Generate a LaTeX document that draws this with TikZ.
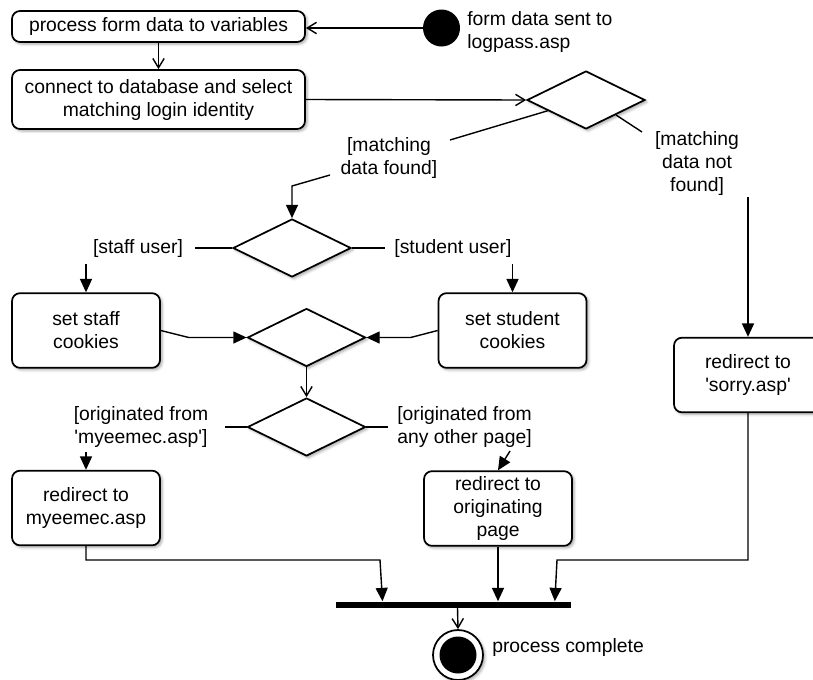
\documentclass[tikz,border=0pt]{standalone}
\usepackage{fontspec}
\setmainfont{Liberation Sans}
\usetikzlibrary{arrows.meta,shapes.geometric,shadows.blur,calc}
\newcommand{\sq}{\textquotesingle}
\begin{document}
\begin{tikzpicture}[x=0.75pt,y=-0.75pt,
  every node/.style={font=\fontsize{14.5}{17.25}\selectfont},
  softshadow/.style={blur shadow={shadow xshift=1.5pt,shadow yshift=-1.5pt,shadow blur radius=2pt,shadow opacity=35}},
  actbox/.style={draw,line width=1.3pt,rounded corners=6pt,fill=white,align=center,inner sep=0pt,softshadow},
  smallbox/.style={actbox,minimum width=111pt,minimum height=56pt},
  decision/.style={diamond,draw,line width=1.3pt,fill=white,inner sep=0pt,minimum width=88.5pt,minimum height=43.5pt,softshadow},
  guard/.style={inner sep=0pt,align=center},
  flow/.style={line width=1.05pt},
  openarrow/.style={flow,-{Straight Barb[length=7pt,width=8.5pt]}},
  solidarrow/.style={flow,-{Triangle[length=10pt,width=9pt]}},
]
\clip (0,0) rectangle (813,679);

% activities
\node[actbox,minimum width=219.75pt,minimum height=23.25pt] (procform) at (158.5,26.5) {process form data to variables};
\node[actbox,minimum width=219.75pt,minimum height=44.25pt] (connectdb) at (158.5,99.5) {connect to database and select\\matching login identity};
\node[smallbox] (staffck) at (86,330.5) {set staff\\cookies};
\node[smallbox] (studentck) at (512.5,330.5) {set student\\cookies};
\node[smallbox] (tomyee) at (86,508) {redirect to\\myeemec.asp};
\node[smallbox] (toorigin) at (498,508.5) {redirect to\\originating\\page};
\node[smallbox] (tosorry) at (748,375) {redirect to\\\sq sorry.asp\sq};

% initial node
\node[circle,fill=black,minimum size=27.75pt,inner sep=0pt] (start) at (441.5,28) {};
\node[guard,anchor=west,align=left] (starttext) at (467,31.5) {form data sent to\\logpass.asp};

% decisions and merges
\node[decision] (dbcheck) at (586,100) {};
\node[decision] (usertype) at (292,248) {};
\node[decision] (merge) at (306.5,337.5) {};
\node[decision] (origin) at (306.5,427) {};

% guards
\node[guard] (foundlbl) at (389,158) {[matching\\data found]};
\node[guard] (notfoundlbl) at (697,163) {[matching\\data not\\found]};
\node[guard] (stafflbl) at (138,248) {[staff user]};
\node[guard] (studentlbl) at (453,248) {[student user]};
\node[guard] (myeelbl) at (141,426.5) {[originated from\\\sq myeemec.asp\sq]};
\node[guard] (otherlbl) at (464.5,426.5) {[originated from\\any other page]};

% join bar and final node
\node[fill=black,minimum width=176.25pt,minimum height=4.5pt,inner sep=0pt] (join) at (453.5,604.5) {};
\node[circle,draw,line width=1.3pt,fill=white,minimum size=37.5pt,inner sep=0pt,softshadow] (finish) at (458,655) {};
\node[circle,fill=black,minimum size=27.75pt,inner sep=0pt] (finishdot) at (finish) {};
\node[guard,anchor=west] (finishtext) at (492,647) {process complete};

% free ends of guarded flows
\coordinate (foundend) at (450,140);
\coordinate (foundstart) at (330,175);
\coordinate (notfoundend) at (642,132);
\coordinate (notfoundstart) at (748,197);
\coordinate (staffstart) at (86,264);
\coordinate (studentstart) at (512.5,264);
\coordinate (myeeend) at (225,427);
\coordinate (otherend) at (388,427);
\coordinate (myeestart) at (86,452);
\coordinate (otherstart) at (510,451);
\coordinate (userleft) at (195,248);
\coordinate (userright) at (385,248);

% flows
\draw[openarrow] (start.west) -- (start.west -| procform.east);
\draw[openarrow] (procform.south) -- (connectdb.north);
\draw[openarrow] (connectdb.east) -- (dbcheck.west);
\draw[flow] ($(dbcheck.west)!0.36!(dbcheck.south)$) -- (foundend);
\draw[solidarrow] (foundstart) -- ++(-38,11) -- (usertype.north);
\draw[flow] ($(dbcheck.east)!0.5!(dbcheck.south)$) -- (notfoundend);
\draw[solidarrow] (notfoundstart) -- (tosorry.north);

\draw[flow] (usertype.west) -- (userleft);
\draw[flow] (usertype.east) -- (userright);
\draw[solidarrow] (staffstart) -- (staffck.north);
\draw[solidarrow] (studentstart) -- (studentck.north);
\draw[solidarrow] (staffck.east) -- ++(28,7) -- (merge.west);
\draw[solidarrow] (studentck.west) -- ++(-27,7) -- (merge.east);
\draw[openarrow] (merge.south) -- (origin.north);

\draw[flow] (origin.west) -- (myeeend);
\draw[flow] (origin.east) -- (otherend);
\draw[solidarrow] (myeestart) -- (tomyee.north);
\draw[solidarrow] (otherstart) -- (toorigin.north);

\draw[solidarrow] (tomyee.south) |- (380,560) -- ([xshift=-53.25pt]join.north);
\draw[solidarrow] (toorigin.south) -- (toorigin.south |- join.north);
\draw[solidarrow] (tosorry.south) |- (557,560) -- ([xshift=76pt]join.north);
\draw[openarrow] ([xshift=3pt]join.south) -- (finish.north);
\end{tikzpicture}
\end{document}
